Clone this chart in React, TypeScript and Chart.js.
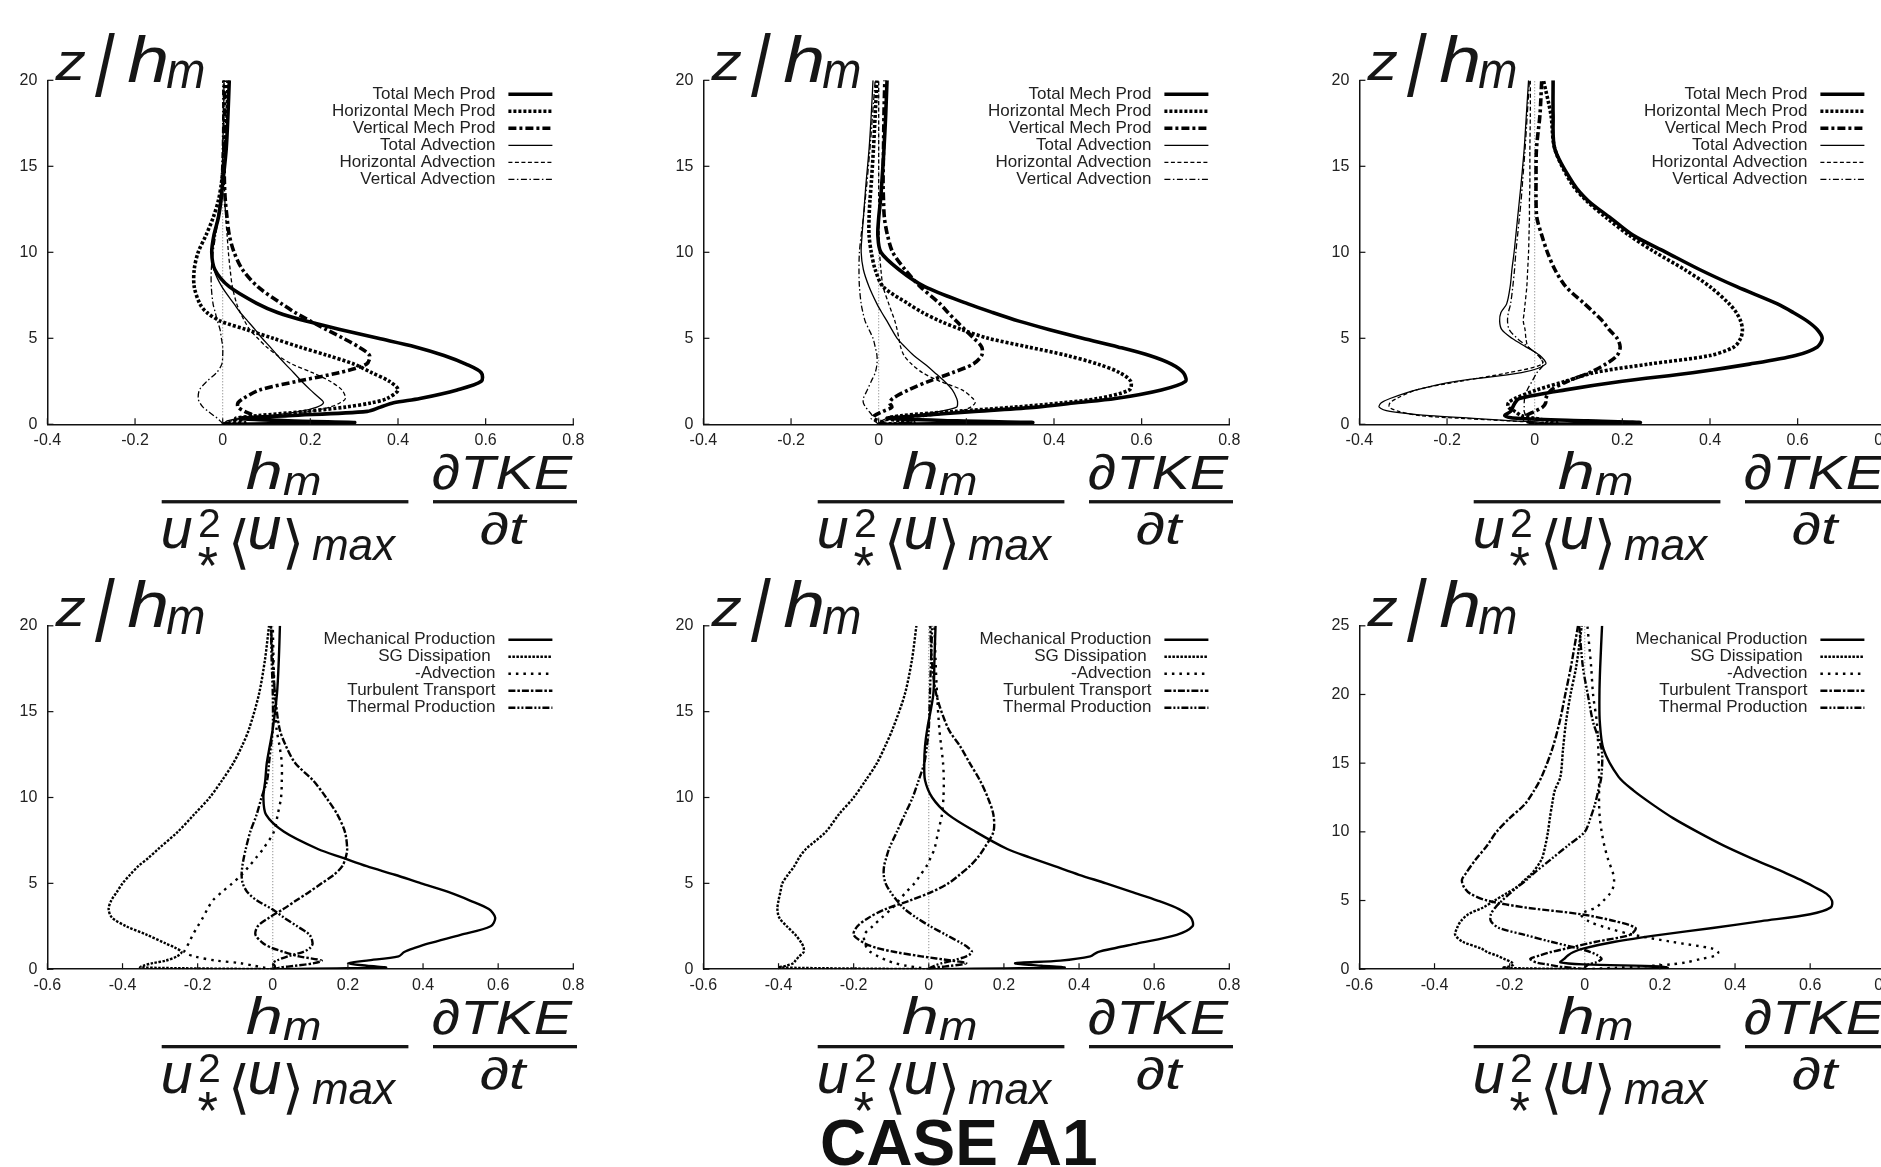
import React, { useEffect, useRef } from 'react';
import { Chart, registerables } from 'chart.js';

Chart.register(...registerables);

const FONT = "'Liberation Sans', Arial, Helvetica, sans-serif";
const MATH_FONT = "'Liberation Sans', 'DejaVu Sans', Arial, sans-serif";
const BRACKET_FONT = "'DejaVu Sans', 'Liberation Sans', sans-serif";

// ---------------- data ----------------
const zLevels = [0, 0.1, 0.2, 0.35, 0.5, 0.75, 1, 1.25, 1.5, 2, 2.5, 3, 3.5, 4, 4.5, 5, 5.5, 6, 6.5, 7, 8, 9, 10, 11, 12, 13, 14, 16, 18, 20];
const zLevelsTall = [0, 0.1, 0.2, 0.35, 0.5, 0.75, 1, 1.25, 1.5, 2, 2.5, 3, 3.5, 4, 4.5, 5, 5.5, 6, 6.5, 7, 8, 9, 10, 11, 12, 13, 14, 16, 18, 20, 22, 25];

const xTicksTop = [-0.4, -0.2, 0, 0.2, 0.4, 0.6, 0.8];
const xTicksBottom = [-0.6, -0.4, -0.2, 0, 0.2, 0.4, 0.6, 0.8];
const yTicks20 = [0, 5, 10, 15, 20];
const yTicks25 = [0, 5, 10, 15, 20, 25];

const topLabels = ['Total Mech Prod', 'Horizontal Mech Prod', 'Vertical Mech Prod', 'Total Advection', 'Horizontal Advection', 'Vertical Advection'];
const bottomLabels = ['Mechanical Production', 'SG Dissipation ', '-Advection', 'Turbulent Transport', 'Thermal Production'];
const captionText = 'CASE A1';

// panel 1 (top left)
const p1TotalMech = [0.0, 0.3, 0.15, 0.04, 0.15, 0.33, 0.36, 0.39, 0.45, 0.535, 0.59, 0.59, 0.555, 0.505, 0.44, 0.355, 0.27, 0.19, 0.125, 0.08, 0.015, -0.018, -0.025, -0.02, -0.01, -0.004, 0.0, 0.008, 0.012, 0.015];
const p1HorizMech = [0.0, 0.05, 0.04, 0.03, 0.08, 0.19, 0.28, 0.34, 0.375, 0.4, 0.38, 0.34, 0.3, 0.24, 0.175, 0.115, 0.055, -0.005, -0.036, -0.052, -0.065, -0.065, -0.056, -0.038, -0.022, -0.01, -0.003, 0.005, 0.01, 0.012];
const p1VertMech = [0.0, 0.02, 0.03, 0.05, 0.07, 0.05, 0.035, 0.035, 0.047, 0.085, 0.17, 0.265, 0.328, 0.335, 0.31, 0.275, 0.237, 0.2, 0.165, 0.135, 0.08, 0.045, 0.026, 0.015, 0.01, 0.006, 0.004, 0.003, 0.004, 0.005];
const p1TotalAdv = [0.0, 0.005, 0.01, 0.04, 0.105, 0.177, 0.215, 0.23, 0.222, 0.2, 0.18, 0.162, 0.143, 0.125, 0.108, 0.09, 0.074, 0.057, 0.04, 0.026, -0.002, -0.02, -0.025, -0.02, -0.012, -0.006, -0.002, 0.0, 0.002, 0.003];
const p1HorizAdv = [0.0, 0.01, 0.02, 0.062, 0.14, 0.2, 0.245, 0.268, 0.28, 0.272, 0.245, 0.205, 0.158, 0.125, 0.1, 0.08, 0.062, 0.05, 0.04, 0.032, 0.022, 0.017, 0.013, 0.01, 0.007, 0.005, 0.004, 0.003, 0.003, 0.003];
const p1VertAdv = [0.0, -0.002, -0.006, -0.012, -0.02, -0.033, -0.045, -0.052, -0.056, -0.053, -0.036, -0.014, -0.002, 0.0, 0.0, -0.003, -0.006, -0.012, -0.017, -0.022, -0.026, -0.026, -0.022, -0.016, -0.01, -0.006, -0.004, -0.001, 0.0, 0.0];

// panel 2 (top middle)
const p2TotalMech = [0.0, 0.35, 0.18, 0.02, 0.09, 0.22, 0.36, 0.45, 0.54, 0.645, 0.7, 0.695, 0.668, 0.618, 0.546, 0.465, 0.39, 0.32, 0.26, 0.204, 0.105, 0.046, 0.005, -0.002, 0.0, 0.004, 0.007, 0.012, 0.016, 0.019];
const p2HorizMech = [0.0, 0.08, 0.05, 0.02, 0.05, 0.175, 0.31, 0.42, 0.5, 0.572, 0.575, 0.55, 0.5, 0.43, 0.34, 0.25, 0.19, 0.14, 0.1, 0.068, 0.01, -0.008, -0.017, -0.022, -0.022, -0.02, -0.017, -0.012, -0.008, -0.004];
const p2VertMech = [0.0, 0.01, 0.0, -0.012, -0.01, 0.01, 0.03, 0.025, 0.032, 0.068, 0.114, 0.168, 0.215, 0.235, 0.235, 0.217, 0.197, 0.177, 0.158, 0.14, 0.095, 0.06, 0.032, 0.02, 0.013, 0.011, 0.01, 0.011, 0.012, 0.014];
const p2TotalAdv = [0.0, 0.003, 0.006, 0.02, 0.07, 0.14, 0.178, 0.18, 0.178, 0.168, 0.15, 0.128, 0.105, 0.08, 0.06, 0.042, 0.03, 0.019, 0.007, -0.004, -0.022, -0.035, -0.04, -0.038, -0.035, -0.032, -0.029, -0.022, -0.017, -0.013];
const p2HorizAdv = [0.0, 0.005, 0.015, 0.05, 0.12, 0.185, 0.21, 0.22, 0.215, 0.19, 0.14, 0.1, 0.075, 0.058, 0.05, 0.046, 0.042, 0.037, 0.03, 0.023, 0.01, 0.005, 0.002, 0.001, 0.0, 0.0, 0.0, 0.0, 0.0, 0.0];
const p2VertAdv = [0.0, -0.005, -0.01, -0.018, -0.015, -0.022, -0.03, -0.035, -0.035, -0.026, -0.017, -0.008, -0.004, -0.004, -0.008, -0.013, -0.022, -0.031, -0.036, -0.04, -0.044, -0.045, -0.044, -0.04, -0.035, -0.031, -0.027, -0.02, -0.014, -0.008];

// panel 3 (top right)
const p3TotalMech = [0.0, 0.24, 0.12, -0.04, -0.068, -0.055, -0.05, -0.045, -0.035, 0.07, 0.2, 0.36, 0.49, 0.595, 0.645, 0.656, 0.645, 0.622, 0.59, 0.554, 0.461, 0.376, 0.3, 0.224, 0.173, 0.122, 0.088, 0.046, 0.042, 0.042];
const p3HorizMech = [0.0, 0.05, 0.03, 0.0, -0.03, -0.045, -0.06, -0.06, -0.045, 0.005, 0.07, 0.135, 0.26, 0.4, 0.455, 0.47, 0.474, 0.47, 0.46, 0.444, 0.4, 0.342, 0.275, 0.215, 0.164, 0.118, 0.084, 0.046, 0.037, 0.02];
const p3VertMech = [0.0, -0.01, -0.02, -0.025, -0.02, 0.0, 0.018, 0.025, 0.025, 0.038, 0.075, 0.125, 0.162, 0.188, 0.195, 0.188, 0.17, 0.155, 0.135, 0.114, 0.071, 0.046, 0.029, 0.016, 0.005, 0.003, 0.003, 0.004, 0.012, 0.016];
const p3TotalAdv = [0.0, 0.02, -0.05, -0.14, -0.24, -0.33, -0.355, -0.35, -0.33, -0.27, -0.18, -0.03, 0.025, 0.012, -0.02, -0.052, -0.075, -0.08, -0.077, -0.064, -0.056, -0.052, -0.047, -0.043, -0.039, -0.035, -0.031, -0.024, -0.019, -0.014];
const p3HorizAdv = [0.0, 0.0, -0.06, -0.17, -0.26, -0.31, -0.332, -0.33, -0.315, -0.27, -0.17, -0.06, 0.017, 0.01, -0.015, -0.02, -0.022, -0.026, -0.024, -0.022, -0.018, -0.016, -0.014, -0.013, -0.012, -0.012, -0.011, -0.011, -0.01, -0.01];
const p3VertAdv = [0.0, -0.005, -0.01, -0.015, -0.02, -0.024, -0.024, -0.024, -0.023, -0.017, -0.006, 0.005, 0.02, 0.008, -0.015, -0.04, -0.058, -0.062, -0.06, -0.055, -0.05, -0.046, -0.043, -0.039, -0.035, -0.031, -0.028, -0.022, -0.017, -0.012];

// panel 4 (bottom left)
const p4MechProd = [0.0, 0.3, 0.25, 0.2, 0.25, 0.335, 0.35, 0.38, 0.415, 0.5, 0.58, 0.592, 0.575, 0.525, 0.467, 0.395, 0.325, 0.25, 0.185, 0.12, 0.03, -0.018, -0.025, -0.02, -0.016, -0.008, 0.0, 0.011, 0.016, 0.019];
const p4SgDiss = [0.0, -0.353, -0.345, -0.32, -0.285, -0.255, -0.243, -0.26, -0.285, -0.335, -0.39, -0.428, -0.437, -0.43, -0.415, -0.4, -0.38, -0.358, -0.33, -0.305, -0.253, -0.21, -0.168, -0.135, -0.105, -0.082, -0.063, -0.037, -0.021, -0.01];
const p4NegAdv = [0.0, -0.025, -0.05, -0.085, -0.15, -0.21, -0.235, -0.23, -0.224, -0.213, -0.2, -0.186, -0.174, -0.16, -0.135, -0.108, -0.083, -0.063, -0.044, -0.026, 0.003, 0.013, 0.022, 0.024, 0.024, 0.018, 0.01, 0.005, 0.002, 0.0];
const p4TurbTrans = [0.0, 0.02, 0.06, 0.11, 0.13, 0.07, 0.03, -0.003, -0.025, -0.046, -0.04, -0.01, 0.028, 0.062, 0.097, 0.13, 0.163, 0.185, 0.194, 0.198, 0.192, 0.172, 0.142, 0.107, 0.06, 0.035, 0.018, 0.006, 0.0, -0.005];
const p4ThermProd = [0.0, 0.005, 0.005, 0.0, 0.01, 0.04, 0.08, 0.1, 0.106, 0.098, 0.065, 0.03, -0.002, -0.042, -0.068, -0.08, -0.083, -0.081, -0.077, -0.072, -0.06, -0.043, -0.03, -0.015, -0.01, -0.005, 0.0, 0.0, -0.003, -0.005];

// panel 5 (bottom middle)
const p5MechProd = [0.0, 0.36, 0.3, 0.23, 0.35, 0.43, 0.45, 0.5, 0.556, 0.66, 0.702, 0.698, 0.666, 0.609, 0.54, 0.472, 0.4, 0.335, 0.27, 0.209, 0.125, 0.052, 0.009, -0.01, -0.012, -0.01, -0.004, 0.012, 0.015, 0.018];
const p5SgDiss = [0.0, -0.4, -0.38, -0.36, -0.355, -0.345, -0.333, -0.333, -0.338, -0.355, -0.378, -0.398, -0.403, -0.4, -0.395, -0.39, -0.375, -0.358, -0.345, -0.327, -0.274, -0.24, -0.2, -0.168, -0.138, -0.116, -0.096, -0.064, -0.045, -0.033];
const p5NegAdv = [0.0, -0.03, -0.06, -0.09, -0.11, -0.135, -0.155, -0.165, -0.17, -0.172, -0.15, -0.125, -0.1, -0.08, -0.06, -0.038, -0.022, -0.006, 0.005, 0.015, 0.025, 0.035, 0.039, 0.04, 0.038, 0.033, 0.028, 0.022, 0.018, 0.015];
const p5TurbTrans = [0.0, 0.02, 0.06, 0.1, 0.06, -0.02, -0.09, -0.14, -0.17, -0.2, -0.19, -0.16, -0.115, -0.05, 0.008, 0.052, 0.082, 0.109, 0.13, 0.146, 0.172, 0.172, 0.157, 0.136, 0.109, 0.083, 0.052, 0.02, 0.008, 0.004];
const p5ThermProd = [0.0, 0.005, 0.015, 0.035, 0.062, 0.1, 0.115, 0.105, 0.088, 0.046, 0.004, -0.033, -0.064, -0.085, -0.102, -0.115, -0.12, -0.119, -0.113, -0.106, -0.085, -0.064, -0.043, -0.027, -0.012, -0.005, 0.0, 0.003, 0.006, 0.009];

// panel 6 (bottom right, taller z range)
const p6MechProd = [0.0, 0.22, 0.2, 0.0, -0.065, -0.055, -0.045, -0.03, -0.005, 0.08, 0.2, 0.34, 0.47, 0.6, 0.655, 0.658, 0.643, 0.61, 0.575, 0.535, 0.45, 0.37, 0.3, 0.235, 0.18, 0.13, 0.09, 0.05, 0.04, 0.039, 0.041, 0.046];
const p6SgDiss = [0.0, -0.22, -0.2, -0.19, -0.195, -0.215, -0.235, -0.26, -0.275, -0.325, -0.345, -0.34, -0.33, -0.31, -0.27, -0.24, -0.21, -0.18, -0.16, -0.14, -0.115, -0.105, -0.098, -0.093, -0.087, -0.08, -0.065, -0.058, -0.05, -0.038, -0.023, -0.008];
const p6NegAdv = [0.0, 0.08, 0.15, 0.23, 0.27, 0.31, 0.35, 0.355, 0.34, 0.23, 0.13, 0.06, 0.01, -0.01, 0.03, 0.05, 0.067, 0.076, 0.078, 0.075, 0.062, 0.052, 0.045, 0.04, 0.038, 0.038, 0.038, 0.036, 0.032, 0.022, 0.017, 0.007];
const p6TurbTrans = [0.0, -0.03, -0.07, -0.1, -0.13, -0.145, -0.12, -0.09, -0.05, 0.03, 0.12, 0.135, 0.08, -0.01, -0.16, -0.26, -0.305, -0.322, -0.327, -0.316, -0.29, -0.26, -0.235, -0.2, -0.16, -0.135, -0.115, -0.087, -0.067, -0.052, -0.037, -0.018];
const p6ThermProd = [0.0, 0.0, 0.003, 0.01, 0.03, 0.045, 0.035, 0.015, -0.015, -0.09, -0.16, -0.228, -0.25, -0.25, -0.238, -0.22, -0.2, -0.178, -0.155, -0.135, -0.09, -0.045, 0.0, 0.015, 0.027, 0.036, 0.044, 0.045, 0.022, 0.008, -0.005, -0.015];

// ---------------- styles / layout ----------------
type Style = { width: number; dash: number[] };
const topStyles: Style[] = [
  { width: 3.6, dash: [] },
  { width: 3.6, dash: [3, 2] },
  { width: 3.6, dash: [8, 3, 3, 3] },
  { width: 1.3, dash: [] },
  { width: 1.3, dash: [4, 2.5] },
  { width: 1.3, dash: [6, 2.5, 1.5, 2.5] },
];
const bottomStyles: Style[] = [
  { width: 2.4, dash: [] },
  { width: 2.4, dash: [2.5, 1.5] },
  { width: 2.4, dash: [2.5, 5] },
  { width: 2.4, dash: [7, 2, 2.5, 2] },
  { width: 2.4, dash: [7, 2, 2, 2, 2, 2] },
];

const CANVAS_W = 640;
const Y_AXIS_W = 47.4;
const PLOT_W = 525.9;
const X_AXIS_H = 40;

type Panel = {
  key: string;
  left: number;
  top: number;
  height: number;
  padTop: number;
  plotH: number;
  z: number[];
  series: number[][];
  labels: string[];
  styles: Style[];
  xTicks: number[];
  yTicks: number[];
  caption?: string;
};

const TOP_ROW = { top: 0, height: 600, padTop: 80.3, plotH: 344 };
const BOT_ROW = { top: 560, height: 607, padTop: 65.8, plotH: 343.4 };
const COLS = [0, 656, 1312];

const panels: Panel[] = [
  { key: 'p1', left: COLS[0], ...TOP_ROW, z: zLevels, series: [p1TotalMech, p1HorizMech, p1VertMech, p1TotalAdv, p1HorizAdv, p1VertAdv], labels: topLabels, styles: topStyles, xTicks: xTicksTop, yTicks: yTicks20 },
  { key: 'p2', left: COLS[1], ...TOP_ROW, z: zLevels, series: [p2TotalMech, p2HorizMech, p2VertMech, p2TotalAdv, p2HorizAdv, p2VertAdv], labels: topLabels, styles: topStyles, xTicks: xTicksTop, yTicks: yTicks20 },
  { key: 'p3', left: COLS[2], ...TOP_ROW, z: zLevels, series: [p3TotalMech, p3HorizMech, p3VertMech, p3TotalAdv, p3HorizAdv, p3VertAdv], labels: topLabels, styles: topStyles, xTicks: xTicksTop, yTicks: yTicks20 },
  { key: 'p4', left: COLS[0], ...BOT_ROW, z: zLevels, series: [p4MechProd, p4SgDiss, p4NegAdv, p4TurbTrans, p4ThermProd], labels: bottomLabels, styles: bottomStyles, xTicks: xTicksBottom, yTicks: yTicks20 },
  { key: 'p5', left: COLS[1], ...BOT_ROW, z: zLevels, series: [p5MechProd, p5SgDiss, p5NegAdv, p5TurbTrans, p5ThermProd], labels: bottomLabels, styles: bottomStyles, xTicks: xTicksBottom, yTicks: yTicks20, caption: captionText },
  { key: 'p6', left: COLS[2], ...BOT_ROW, z: zLevelsTall, series: [p6MechProd, p6SgDiss, p6NegAdv, p6TurbTrans, p6ThermProd], labels: bottomLabels, styles: bottomStyles, xTicks: xTicksBottom, yTicks: yTicks25 },
];

function fmtTick(v: number): string {
  if (Math.abs(v) < 1e-9) return '0';
  return String(Math.round(v * 1000) / 1000);
}

// Draws text so that its ink box starts at `left` and spans `top`..`bottom`
// (and optionally ends at `right`).
function drawFit(
  ctx: CanvasRenderingContext2D,
  s: string,
  style: string,
  left: number,
  top: number,
  bottom: number,
  right?: number,
  family: string = MATH_FONT,
) {
  const refSize = 100;
  ctx.font = `${style} ${refSize}px ${family}`;
  ctx.textAlign = 'left';
  ctx.textBaseline = 'alphabetic';
  const m = ctx.measureText(s);
  const asc = m.actualBoundingBoxAscent;
  const desc = m.actualBoundingBoxDescent;
  const bl = m.actualBoundingBoxLeft;
  const br = m.actualBoundingBoxRight;
  const h = Math.max(1, asc + desc);
  const sy = (bottom - top) / h;
  const sx = right !== undefined ? (right - left) / Math.max(1, br + bl) : sy;
  ctx.save();
  ctx.translate(left + bl * sx, top + asc * sy);
  ctx.scale(sx, sy);
  ctx.fillText(s, 0, 0);
  ctx.restore();
}

function ProfileChart({ panel }: { panel: Panel }) {
  const ref = useRef<HTMLCanvasElement | null>(null);

  useEffect(() => {
    const canvas = ref.current;
    if (!canvas) return;
    const yMin = panel.yTicks[0];
    const yMax = panel.yTicks[panel.yTicks.length - 1];
    const xMin = panel.xTicks[0];
    const xMax = panel.xTicks[panel.xTicks.length - 1];

    const datasets: any[] = panel.series.map((vals, i) => ({
      label: panel.labels[i],
      data: panel.z.map((zz, k) => ({ x: vals[k], y: zz })),
      showLine: true,
      borderColor: '#000',
      backgroundColor: '#000',
      borderWidth: panel.styles[i].width,
      borderDash: panel.styles[i].dash,
      borderCapStyle: 'butt',
      borderJoinStyle: 'round',
      pointRadius: 0,
      pointHoverRadius: 0,
      tension: 0.3,
      fill: false,
    }));
    datasets.push({
      label: '',
      data: [{ x: 0, y: yMin }, { x: 0, y: yMax }],
      showLine: true,
      borderColor: '#777',
      borderWidth: 1,
      borderDash: [1, 2],
      pointRadius: 0,
      tension: 0,
      fill: false,
    });

    const decor = {
      id: 'decor_' + panel.key,
      afterDraw(chart: any) {
        const ctx: CanvasRenderingContext2D = chart.ctx;
        const ca = chart.chartArea;
        const L = ca.left, T = ca.top, B = ca.bottom;
        const xs = chart.scales.x, ys = chart.scales.y;
        ctx.save();
        ctx.fillStyle = '#111';
        ctx.strokeStyle = '#111';
        // inward ticks
        ctx.lineWidth = 1.2;
        ctx.setLineDash([]);
        panel.xTicks.forEach((v) => {
          const px = xs.getPixelForValue(v);
          ctx.beginPath(); ctx.moveTo(px, B); ctx.lineTo(px, B - 6); ctx.stroke();
        });
        panel.yTicks.forEach((v) => {
          const py = ys.getPixelForValue(v);
          ctx.beginPath(); ctx.moveTo(L, py); ctx.lineTo(L + 6, py); ctx.stroke();
        });
        // legend
        ctx.font = `17px ${FONT}`;
        ctx.textAlign = 'right';
        ctx.textBaseline = 'middle';
        ctx.fillStyle = '#222';
        panel.labels.forEach((lab, i) => {
          const y = T + 14 + i * 17;
          ctx.fillText(lab, L + 448, y);
          ctx.beginPath();
          ctx.strokeStyle = '#000';
          ctx.lineWidth = panel.styles[i].width;
          ctx.setLineDash(panel.styles[i].dash);
          ctx.lineCap = 'butt';
          ctx.moveTo(L + 461, y);
          ctx.lineTo(L + 505, y);
          ctx.stroke();
        });
        ctx.setLineDash([]);
        ctx.fillStyle = '#161616';
        // y-axis title  z / h_m
        drawFit(ctx, 'z', 'italic', L + 7.6, T - 28.6, T - 0.3, L + 38);
        drawFit(ctx, '/', 'normal', L + 47.6, T - 48.6, T + 16.4, L + 67.6);
        drawFit(ctx, 'h', 'italic', L + 80.6, T - 45.3, T + 1.4, L + 119);
        drawFit(ctx, 'm', 'italic', L + 119.3, T - 20.3, T + 8, L + 156);
        // x-axis label: h_m / (u*^2 <u>_max)   dTKE/dt
        ctx.fillRect(L + 114.3, B + 77.4 - 1.6, 246.7, 3.3);
        ctx.fillRect(L + 385.6, B + 77.4 - 1.6, 144, 3.3);
        drawFit(ctx, 'h', 'italic', L + 199, B + 27.4, B + 65, L + 233);
        drawFit(ctx, 'm', 'italic', L + 236, B + 49, B + 70.7, L + 272);
        drawFit(ctx, 'u', 'italic', L + 115.6, B + 93, B + 124);
        drawFit(ctx, '2', 'normal', L + 152.6, B + 83.7, B + 112.4);
        drawFit(ctx, '*', 'normal', L + 150.6, B + 123.7, B + 142.7);
        drawFit(ctx, '\u27E8', '200', L + 185.6, B + 93.7, B + 145.7, L + 198.6, BRACKET_FONT);
        drawFit(ctx, 'u', 'italic', L + 202.6, B + 92.7, B + 125.7);
        drawFit(ctx, '\u27E9', '200', L + 239.6, B + 93.7, B + 145.7, L + 252.6, BRACKET_FONT);
        drawFit(ctx, 'max', 'italic', L + 265, B + 111.7, B + 135.7, L + 349);
        drawFit(ctx, '\u2202TKE', 'italic', L + 385.6, B + 29, B + 65.7, L + 525.6);
        drawFit(ctx, '\u2202t', 'italic', L + 433.6, B + 87.4, B + 120.7, L + 480.6);
        if (panel.caption) {
          ctx.fillStyle = '#111';
          ctx.font = `bold 64px ${FONT}`;
          ctx.textAlign = 'left';
          ctx.textBaseline = 'alphabetic';
          ctx.fillText(panel.caption, L + 116.7, B + 196);
        }
        ctx.restore();
      },
    };

    const chart = new Chart(canvas, {
      type: 'scatter',
      data: { datasets },
      options: {
        responsive: false,
        animation: false,
        devicePixelRatio: 1,
        events: [],
        layout: {
          padding: {
            left: 0,
            top: panel.padTop,
            right: CANVAS_W - Y_AXIS_W - PLOT_W,
            bottom: panel.height - panel.padTop - panel.plotH - X_AXIS_H,
          },
        },
        plugins: {
          legend: { display: false },
          tooltip: { enabled: false },
          title: { display: false },
        },
        scales: {
          x: {
            type: 'linear',
            min: xMin,
            max: xMax,
            afterBuildTicks: (axis: any) => {
              axis.ticks = panel.xTicks.map((v) => ({ value: v }));
            },
            afterFit: (axis: any) => {
              axis.height = X_AXIS_H;
            },
            ticks: {
              autoSkip: false,
              maxRotation: 0,
              padding: 7,
              color: '#222',
              font: { family: FONT, size: 16 },
              callback: (v: any) => fmtTick(Number(v)),
            },
            grid: { display: true, drawOnChartArea: false, drawTicks: false },
            border: { display: true, color: '#111', width: 1.5 },
          },
          y: {
            type: 'linear',
            min: yMin,
            max: yMax,
            afterBuildTicks: (axis: any) => {
              axis.ticks = panel.yTicks.map((v) => ({ value: v }));
            },
            afterFit: (axis: any) => {
              axis.width = Y_AXIS_W;
            },
            ticks: {
              autoSkip: false,
              padding: 10,
              color: '#222',
              font: { family: FONT, size: 16 },
              callback: (v: any) => fmtTick(Number(v)),
            },
            grid: { display: true, drawOnChartArea: false, drawTicks: false },
            border: { display: true, color: '#111', width: 1.5 },
          },
        },
      } as any,
      plugins: [decor],
    });
    return () => chart.destroy();
  }, [panel]);

  return (
    <canvas
      ref={ref}
      width={CANVAS_W}
      height={panel.height}
      style={{ position: 'absolute', left: panel.left, top: panel.top, width: CANVAS_W, height: panel.height }}
    />
  );
}

export default function App() {
  return (
    <div
      style={{
        position: 'fixed',
        left: 0,
        top: 0,
        width: 1881,
        height: 1167,
        overflow: 'hidden',
        background: '#fff',
      }}
    >
      {panels.map((p) => (
        <ProfileChart key={p.key} panel={p} />
      ))}
    </div>
  );
}
